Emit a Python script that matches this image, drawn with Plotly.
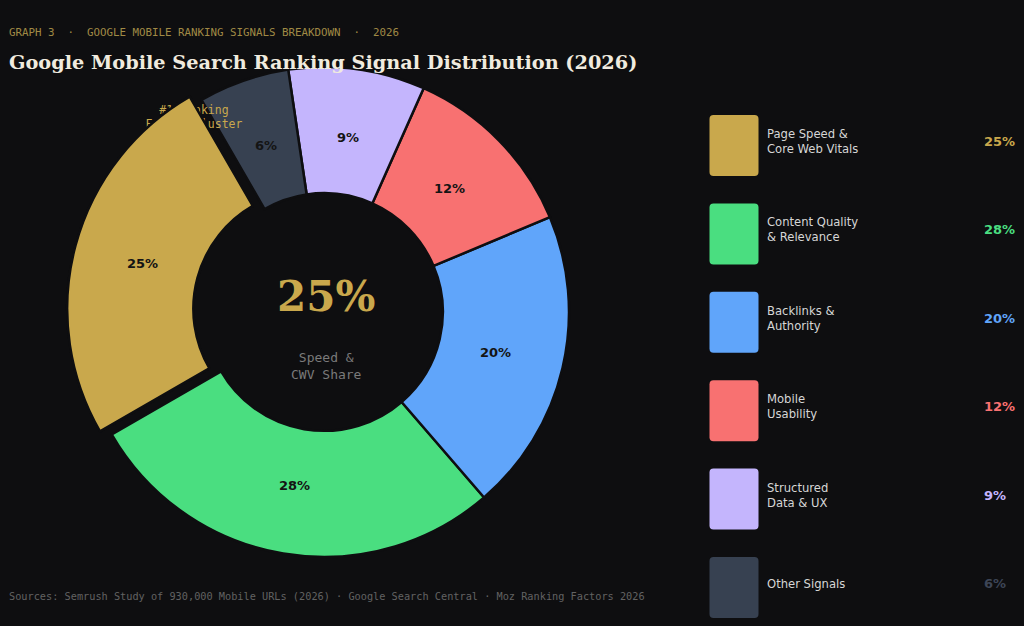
import math
import plotly.graph_objects as go

# ---- data ----
categories = ["Page Speed &<br>Core Web Vitals", "Content Quality<br>& Relevance", "Backlinks &<br>Authority",
              "Mobile<br>Usability", "Structured<br>Data & UX", "Other Signals"]
values = [25, 28, 20, 12, 9, 6]
colors = ["#c9a84c", "#4ade80", "#60a5fa", "#f87171", "#c4b5fd", "#374151"]
pulls = [0.05, 0, 0, 0, 0, 0]
callout = "#1 Ranking<br>Factor Cluster"

BG = "#0e0e10"
CLEAR = "rgba(0,0,0,0)"
W, H = 1024, 626

# pie geometry
cx, cy, r = 324, 312, 245
ROT = -120
HOLE = 0.485
box = 2 * r * (1 + max(pulls))
dom = dict(x=[(cx - box / 2) / W, (cx + box / 2) / W],
           y=[1 - (cy + box / 2) / H, 1 - (cy - box / 2) / H])
labels = [c.replace("<br>", " ") for c in categories]

fig = go.Figure()
# invisible cartesian frame (pixel coordinates for annotations/shapes)
fig.add_trace(go.Scatter(x=[0, W], y=[0, H], mode="markers", marker=dict(opacity=0),
                         hoverinfo="skip", showlegend=False))

# 1) full donut
fig.add_trace(go.Pie(
    labels=labels, values=values, sort=False, direction="counterclockwise",
    rotation=ROT, hole=HOLE, pull=pulls,
    marker=dict(colors=colors, line=dict(color=BG, width=2.5)),
    textinfo="none", showlegend=False, domain=dom,
))

# 2) call-out label (sits above the other slices, below the pulled gold wedge)
lx, ly, lb = 194, 117, 130
fig.add_trace(go.Pie(
    values=[1], labels=["callout"], text=[callout], textinfo="text", textposition="inside",
    insidetextorientation="horizontal", sort=False,
    textfont=dict(family="DejaVu Sans Mono", size=11.5, color="#c9a84c"),
    marker=dict(colors=[CLEAR], line=dict(width=0)),
    hoverinfo="skip", showlegend=False,
    domain=dict(x=[(lx - lb / 2) / W, (lx + lb / 2) / W], y=[1 - (ly + lb / 2) / H, 1 - (ly - lb / 2) / H]),
))

# 3) pulled wedge redrawn on top
fig.add_trace(go.Pie(
    labels=labels, values=values, sort=False, direction="counterclockwise",
    rotation=ROT, hole=HOLE, pull=pulls,
    marker=dict(colors=[colors[0]] + [CLEAR] * 5,
                line=dict(color=[BG] + [CLEAR] * 5, width=[2.5] + [0] * 5)),
    textinfo="none", hoverinfo="skip", showlegend=False, domain=dom,
))

annotations = []
shapes = []

# slice percentage labels at mid-ring, computed from the cumulative values
total = sum(values)
start = ROT + 360 * values[0] / total  # clockwise edge of first slice
ang = start
label_r = 176
for v, p in zip(values, pulls):
    span = 360 * v / total
    mid = math.radians(ang - span / 2)
    off = p * r
    x = cx + (label_r + off) * math.sin(mid)
    y = cy - (label_r + off) * math.cos(mid)
    annotations.append(dict(x=x, y=y, xref="x", yref="y", xanchor="center", yanchor="middle", showarrow=False,
                            text=f"{v}%",
                            font=dict(family="DejaVu Sans", size=13, color="#141414", weight="bold")))
    ang -= span

# header / footer
annotations.append(dict(x=7, y=32, xref="x", yref="y", xanchor="left", yanchor="middle", showarrow=False,
                        text="GRAPH 3\u00a0\u00a0·\u00a0\u00a0GOOGLE MOBILE RANKING SIGNALS BREAKDOWN\u00a0\u00a0·\u00a0\u00a02026",
                        font=dict(family="DejaVu Sans Mono", size=10.8, color="#a08a45")))
annotations.append(dict(x=7, y=62, xref="x", yref="y", xanchor="left", yanchor="middle", showarrow=False,
                        text="Google Mobile Search Ranking Signal Distribution (2026)",
                        font=dict(family="DejaVu Serif", size=19.3, color="#f0ebdf", weight="bold")))
annotations.append(dict(x=7, y=596, xref="x", yref="y", xanchor="left", yanchor="middle", showarrow=False,
                        text="Sources: Semrush Study of 930,000 Mobile URLs (2026) · Google Search Central · Moz Ranking Factors 2026",
                        font=dict(family="DejaVu Sans Mono", size=10.25, color="#626262")))

# centre text
annotations.append(dict(x=cx + 2, y=296, xref="x", yref="y", xanchor="center", yanchor="middle", showarrow=False,
                        text=f"{values[0]}%",
                        font=dict(family="DejaVu Serif", size=42, color="#c9a84c", weight="bold")))
annotations.append(dict(x=cx + 2, y=366, xref="x", yref="y", xanchor="center", yanchor="middle", showarrow=False,
                        text="Speed &<br>CWV Share",
                        font=dict(family="DejaVu Sans Mono", size=13, color="#7a7a7a")))

# custom legend
pct_colors = colors[:5] + ["#3d4556"]
for i, (cat, v, c) in enumerate(zip(categories, values, colors)):
    top = 115 + 88.4 * i
    x0, x1, y0, y1 = 709.5, 758.5, top, top + 61
    rr = 4
    path = (f"M {x0+rr},{y0} L {x1-rr},{y0} Q {x1},{y0} {x1},{y0+rr} L {x1},{y1-rr} Q {x1},{y1} {x1-rr},{y1} "
            f"L {x0+rr},{y1} Q {x0},{y1} {x0},{y1-rr} L {x0},{y0+rr} Q {x0},{y0} {x0+rr},{y0} Z")
    shapes.append(dict(type="path", path=path, xref="x", yref="y", fillcolor=c, line=dict(width=0)))
    ym = top + 30.5 - 4
    annotations.append(dict(x=765, y=ym, xref="x", yref="y", xanchor="left", yanchor="middle", showarrow=False,
                            align="left", text=cat,
                            font=dict(family="DejaVu Sans", size=11.6, color="#d6d6d6")))
    annotations.append(dict(x=982, y=ym, xref="x", yref="y", xanchor="left", yanchor="middle", showarrow=False,
                            text=f"{v}%",
                            font=dict(family="DejaVu Sans", size=13, color=pct_colors[i], weight="bold")))

fig.update_layout(
    width=W, height=H,
    margin=dict(l=0, r=0, t=0, b=0),
    paper_bgcolor=BG, plot_bgcolor=BG,
    xaxis=dict(range=[0, W], visible=False, fixedrange=True),
    yaxis=dict(range=[H, 0], visible=False, fixedrange=True),
    annotations=annotations,
    shapes=shapes,
    showlegend=False,
)

fig.write_html("out.html")
